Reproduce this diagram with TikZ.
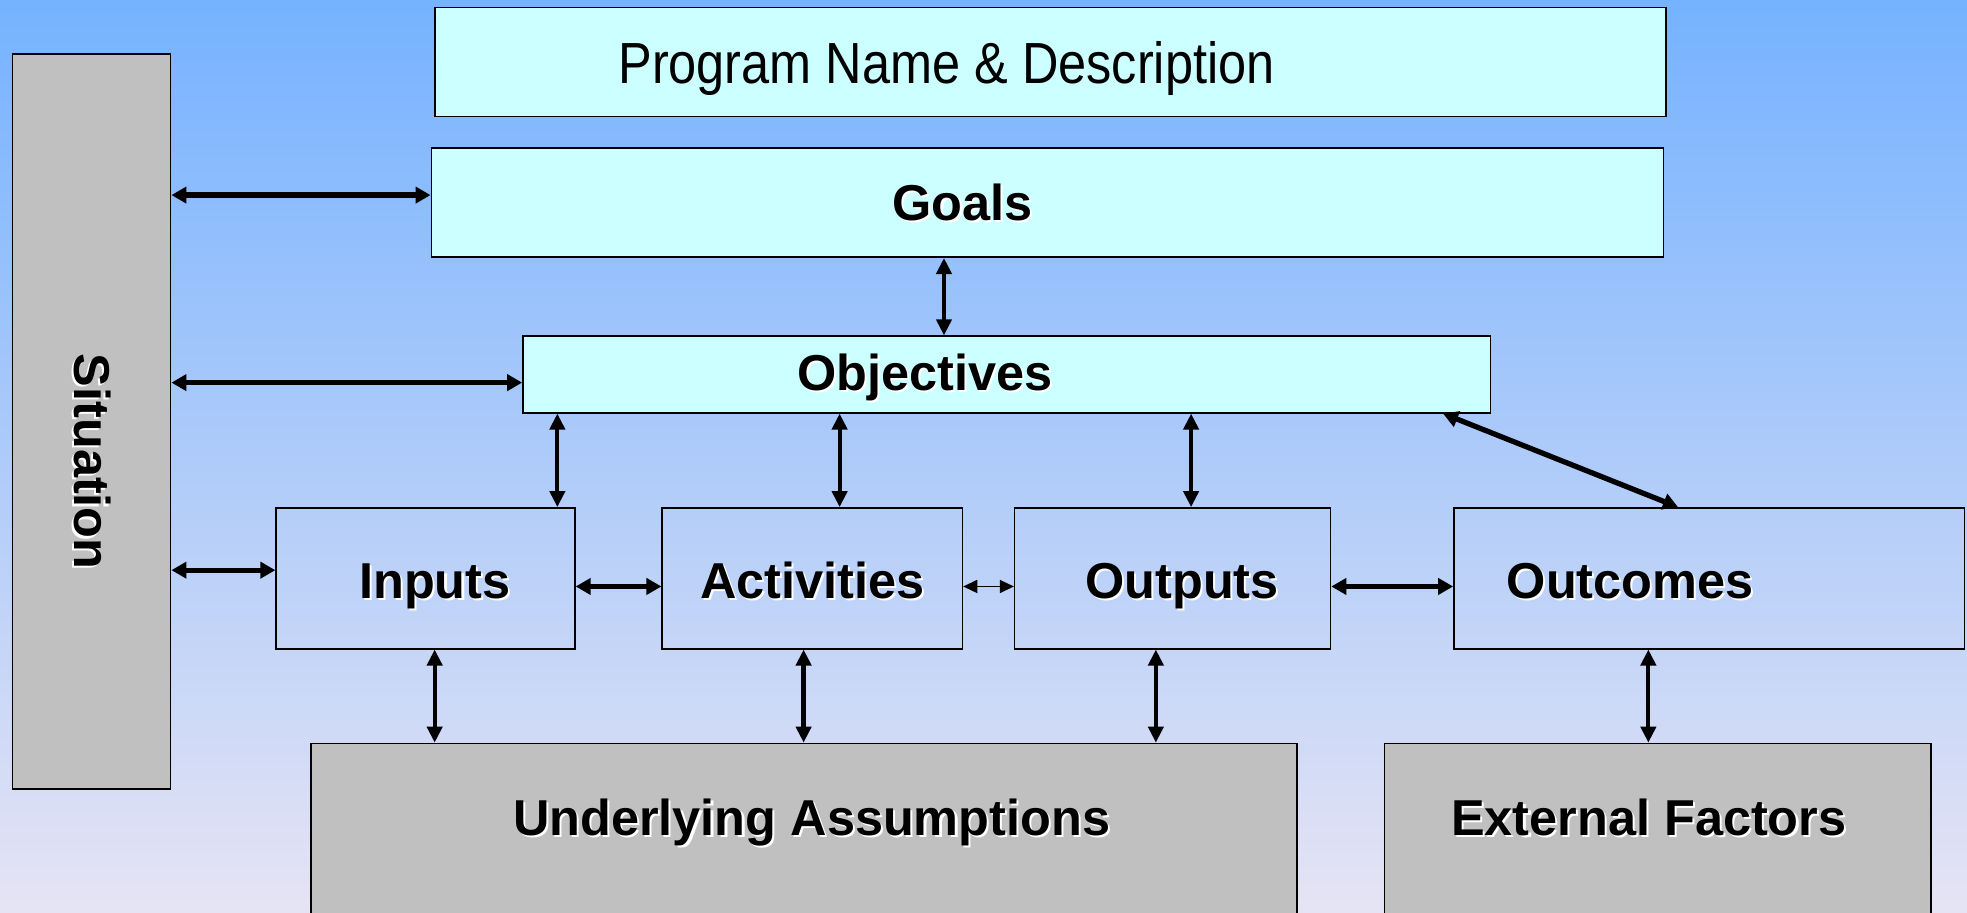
\documentclass[tikz,border=0pt]{standalone}
\usepackage{graphicx}
\usepackage{fontspec}
\setmainfont{Liberation Sans}
\usetikzlibrary{positioning, arrows.meta}
\definecolor{skyTop}{RGB}{117,178,255}
\definecolor{skyBottom}{RGB}{230,228,244}
\definecolor{paleCyan}{RGB}{204,255,255}
\definecolor{boxGray}{RGB}{192,192,192}
\tikzset{LightBox/.style={%
    shape=rectangle,%
    draw=black,%
    fill=paleCyan,%
    line width=0.45pt,%
    inner sep=0pt,%
}}
\tikzset{OpenBox/.style={%
    shape=rectangle,%
    draw=black,%
    line width=0.45pt,%
    text height=0.906cm,%
    text depth=0.4965cm,%
    inner sep=0pt,%
}}
\tikzset{GrayBox/.style={%
    shape=rectangle,%
    draw=black,%
    fill=boxGray,%
    line width=0.45pt,%
    inner sep=0pt,%
}}
\tikzset{FootBox/.style={%
    GrayBox,%
    anchor=north,%
    text height=0.92cm,%
    text depth=2cm,%
}}
\tikzset{ThickEdge/.style={%
    {Triangle[length=0.15cm,width=0.16cm]}-{Triangle[length=0.15cm,width=0.16cm]},%
    line width=1.5pt,%
}}
\tikzset{NormalEdge/.style={%
    {Triangle[length=0.16cm,width=0.15cm]}-{Triangle[length=0.16cm,width=0.15cm]},%
    line width=1.2pt,%
}}
\tikzset{ThinEdge/.style={%
    {Triangle[length=0.14cm,width=0.13cm]}-{Triangle[length=0.14cm,width=0.13cm]},%
    line width=0.4pt,%
}}
\NewDocumentCommand{\boxLabel}{O{0pt} m}{%
    \hspace*{#1}%
    \makebox[0pt][l]{\hspace{0.6pt}\raisebox{-0.6pt}{\color{white}#2}}%
    #2%
}

\begin{document}
\begin{tikzpicture}[x=0.0125cm, y=-0.0125cm,
    font=\fontsize{14.3pt}{17pt}\selectfont\bfseries]
    \useasboundingbox (0,0) rectangle (1568,727);
    \clip (0,0) rectangle (1568,727);
    \shade[top color=skyTop, bottom color=skyBottom] (0,0) rectangle (1568,727);

    \node[GrayBox, minimum width=1.575cm, minimum height=7.325cm] (situation) at (73,336)
        {\rotatebox{-90}{\boxLabel[0.8cm]{Situation}}};
    \node[LightBox, minimum width=12.2625cm, text height=0.7575cm, text depth=0.33cm,
        font=\fontsize{14.3pt}{17pt}\selectfont] (program) at (837.5,49.5)
        {\hspace*{-2.075cm}\scalebox{1}[1.15]{Program Name \& Description}};
    \node[LightBox, minimum width=12.275cm, text height=0.724cm, text depth=0.3635cm]
        (goals) at (835,161.5) {\boxLabel[-1.6875cm]{Goals}};
    \node[LightBox, minimum width=9.6375cm, text height=0.5425cm, text depth=0.22cm]
        (objectives) at (802.5,298.5) {\boxLabel[-1.625cm]{Objectives}};

    \node[OpenBox, minimum width=2.975cm] (inputs) at (339.2,461) {\boxLabel[0.1875cm]{Inputs}};
    \node[OpenBox, minimum width=2.99cm, right=0.855cm of inputs] (activities) {\boxLabel{Activities}};
    \node[OpenBox, minimum width=3.146cm, right=0.505cm of activities] (outputs) {\boxLabel[0.1875cm]{Outputs}};
    \node[OpenBox, minimum width=5.085cm, right=1.214cm of outputs] (outcomes) {\boxLabel[-1.575cm]{Outcomes}};

    \node[FootBox, minimum width=9.825cm] (assumptions) at (641,592) {\boxLabel[0.15cm]{Underlying Assumptions}};
    \node[FootBox, minimum width=5.446cm] (external) at (1321.5,592) {\boxLabel[-0.1775cm]{External Factors}};

    % where the links run
    \coordinate (yGoals) at (0,155.5);
    \coordinate (yObjectives) at (0,305);
    \coordinate (yInputs) at (0,454.5);
    \coordinate (yRow) at (0,467.5);
    \coordinate (xGoals) at (752.5,0);
    \coordinate (xInputs) at (444.3,0);
    \coordinate (xActivities) at (669.3,0);
    \coordinate (xOutputs) at (949.5,0);
    \coordinate (xSlantTop) at (1150.3,0);
    \coordinate (xSlantFoot) at (1337.7,0);
    \coordinate (xInputsFoot) at (346.5,0);
    \coordinate (xActivitiesFoot) at (640.6,0);
    \coordinate (xOutputsFoot) at (921.4,0);
    \coordinate (xOutcomesFoot) at (1314,0);

    \path (situation.east |- yGoals) edge[ThickEdge] (goals.west |- yGoals);
    \path (situation.east |- yObjectives) edge[ThickEdge] (objectives.west |- yObjectives);
    \path (situation.east |- yInputs) edge[ThickEdge] (inputs.west |- yInputs);
    \path (goals.south -| xGoals) edge[NormalEdge] (objectives.north -| xGoals);
    \path (objectives.south -| xInputs) edge[NormalEdge] (inputs.north -| xInputs);
    \path (objectives.south -| xActivities) edge[NormalEdge] (activities.north -| xActivities);
    \path (objectives.south -| xOutputs) edge[NormalEdge] (outputs.north -| xOutputs);
    \path (objectives.south -| xSlantTop) edge[ThickEdge] (outcomes.north -| xSlantFoot);
    \path (inputs.east |- yRow) edge[ThickEdge] (activities.west |- yRow);
    \path (activities.east |- yRow) edge[ThinEdge] (outputs.west |- yRow);
    \path (outputs.east |- yRow) edge[ThickEdge] (outcomes.west |- yRow);
    \path (inputs.south -| xInputsFoot) edge[NormalEdge] (assumptions.north -| xInputsFoot);
    \path (activities.south -| xActivitiesFoot) edge[NormalEdge] (assumptions.north -| xActivitiesFoot);
    \path (outputs.south -| xOutputsFoot) edge[NormalEdge] (assumptions.north -| xOutputsFoot);
    \path (outcomes.south -| xOutcomesFoot) edge[NormalEdge] (external.north -| xOutcomesFoot);
\end{tikzpicture}
\end{document}
